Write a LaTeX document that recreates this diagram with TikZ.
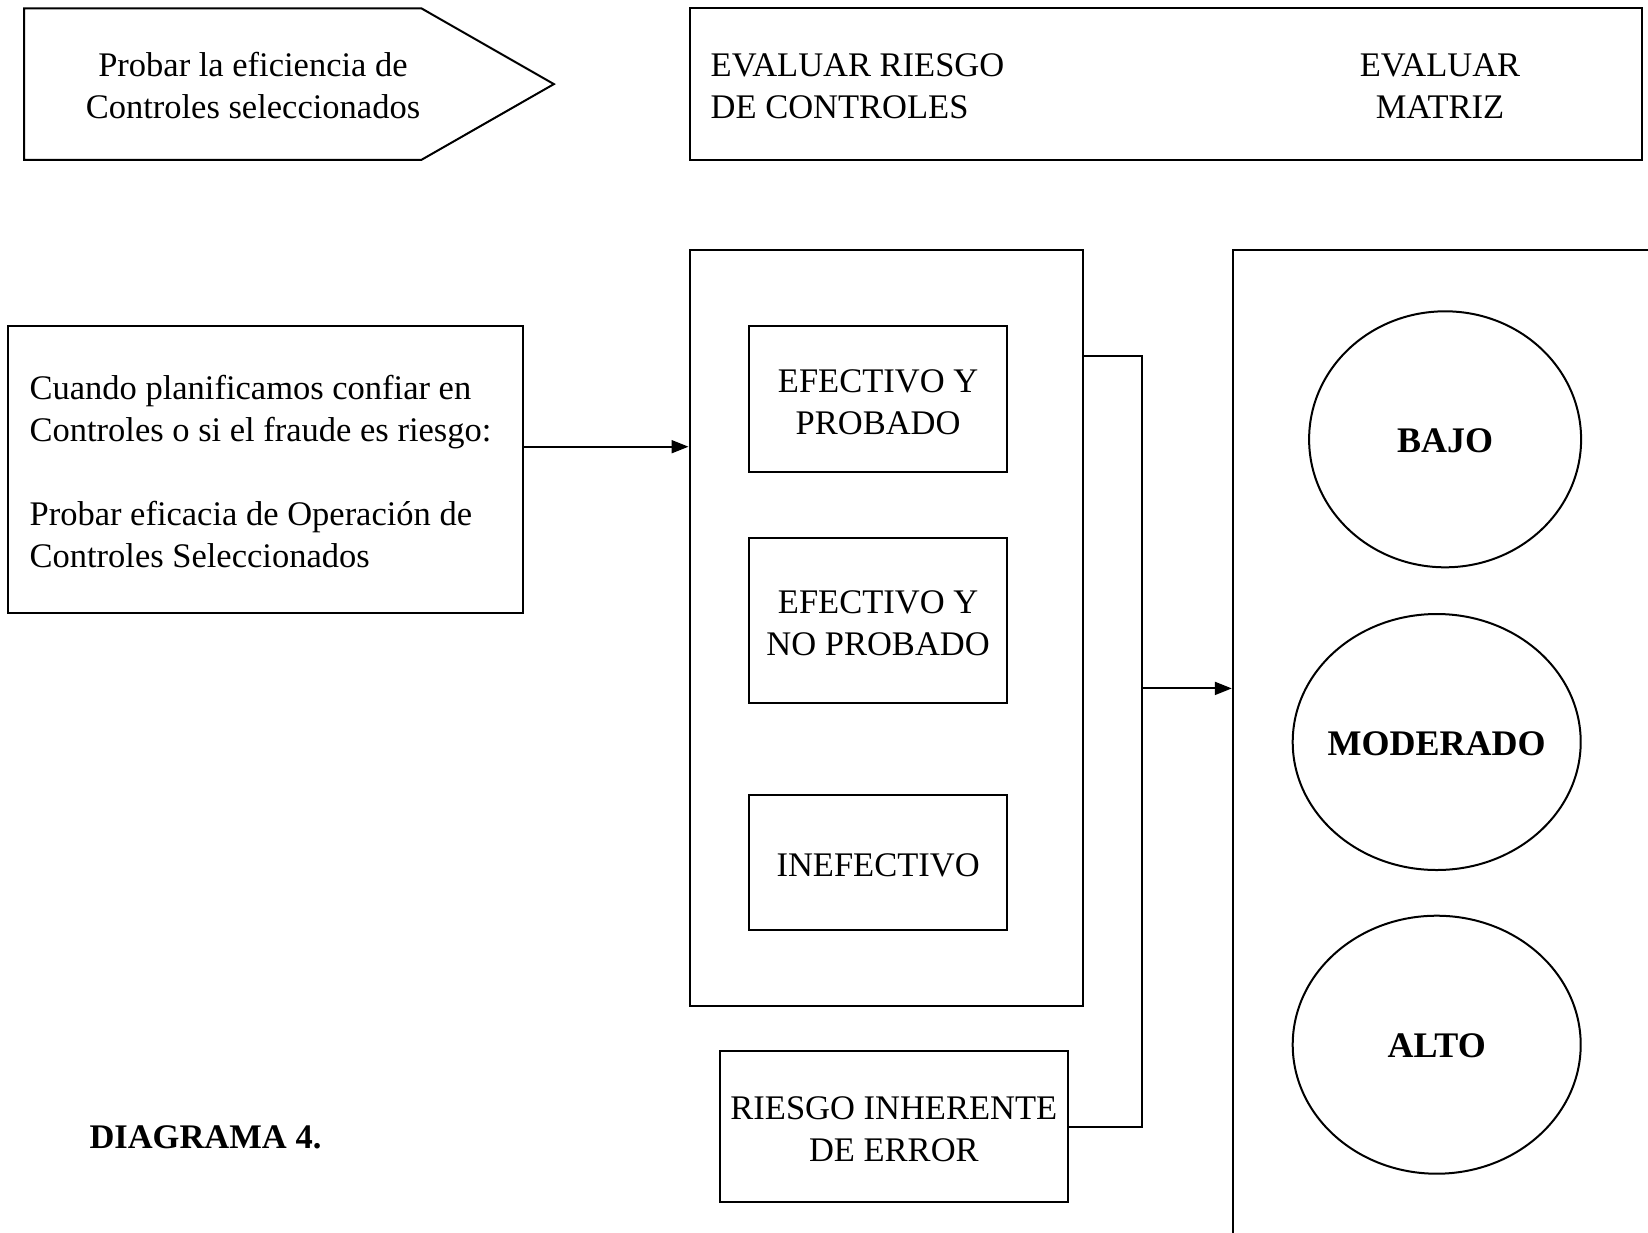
\documentclass[tikz,border=0pt]{standalone}
\usepackage{fontspec}
\setmainfont{Liberation Serif}
\usetikzlibrary{arrows.meta,shapes.geometric}
\begin{document}
\begin{tikzpicture}[x=1pt,y=-1pt,
  box/.style={draw,line width=2pt,rectangle,inner sep=0pt},
  txt/.style={font=\fontsize{34.5}{42}\selectfont,inner sep=0pt},
  boxtxt/.style={txt,align=center,yshift=-3pt},
  oval/.style={draw,line width=2pt,ellipse,inner sep=0pt},
  ovaltxt/.style={inner sep=0pt,font=\fontsize{36}{42}\selectfont\bfseries,yshift=-1.5pt},
  conn/.style={line width=2pt},
  arr/.style={line width=2pt,-{Triangle[length=17pt,width=13pt]}}]
\path[use as bounding box,fill=white] (0,0) rectangle (1648,1232);
\clip (0,0) rectangle (1648,1232);

% top pentagon
\draw[conn] (24.2,8.4) -- (421.5,8.4) -- (553.9,84.1) -- (421.5,159.8) -- (24.2,159.8) -- cycle;
\node[txt,align=center] (probar) at (253,86) {Probar la eficiencia de\\Controles seleccionados};

% top right box
\node[box,minimum width=952.2pt,minimum height=151.4pt] (top) at (1165.6,84.1) {};
\node[txt,align=left,anchor=west] (evr) at (710.5,86) {EVALUAR RIESGO\\DE CONTROLES};
\node[txt,align=center] (evm) at (1440,86) {EVALUAR\\MATRIZ};

% left box
\node[box,minimum width=515pt,minimum height=286.9pt] (left) at (265.9,469.25) {};
\node[txt,align=left,anchor=west] (lefttxt) at (29.4,471.9) {Cuando planificamos confiar en\\Controles o si el fraude es riesgo:\\[42pt]Probar eficacia de Operación de\\Controles Seleccionados};

% middle box
\node[box,minimum width=393pt,minimum height=755.7pt] (mid) at (886,627.95) {};
\node[box,minimum width=257.5pt,minimum height=146.1pt] (b1) at (878.1,398.85) {};
\node[boxtxt] (b1t) at (b1.center) {EFECTIVO Y\\PROBADO};
\node[box,minimum width=257.5pt,minimum height=165pt] (b2) at (878.1,620.6) {};
\node[boxtxt] (b2t) at (b2.center) {EFECTIVO Y\\NO PROBADO};
\node[box,minimum width=257.5pt,minimum height=135.5pt] (b3) at (878.1,862.35) {};
\node[boxtxt] (b3t) at (b3.center) {INEFECTIVO};

% riesgo box
\node[box,minimum width=347.9pt,minimum height=151.3pt] (riesgo) at (893.85,1126.65) {};
\node[boxtxt] (riesgot) at (riesgo.center) {RIESGO INHERENTE\\DE ERROR};

% right box
\node[box,minimum width=467.2pt,minimum height=1049.9pt] (right) at (1466.4,775.05) {};
\node[oval,minimum width=272pt,minimum height=256pt] (bajo) at (1445.1,439.3) {};
\node[ovaltxt] (bajot) at (bajo.center) {BAJO};
\node[oval,minimum width=288pt,minimum height=256pt] (mod) at (1436.7,742) {};
\node[ovaltxt] (modt) at (mod.center) {MODERADO};
\node[oval,minimum width=288pt,minimum height=258pt] (alto) at (1436.7,1044.7) {};
\node[ovaltxt] (altot) at (alto.center) {ALTO};

% caption
\node[txt,font=\fontsize{34.5}{42}\selectfont\bfseries,anchor=west] (cap) at (89.3,1137) {DIAGRAMA 4.};

% connectors
\coordinate (a1) at (600,446.7);
\draw[arr] (left.east |- a1) -- (mid.west |- a1);
\coordinate (j1) at (1142.4,356.3);
\coordinate (j2) at (1142.4,688.4);
\coordinate (j3) at (1142.4,1126.65);
\draw[conn] (mid.east |- j1) -- (j1) -- (j3) -- (riesgo.east);
\draw[arr] (j2) -- (right.west |- j2);
\end{tikzpicture}
\end{document}
